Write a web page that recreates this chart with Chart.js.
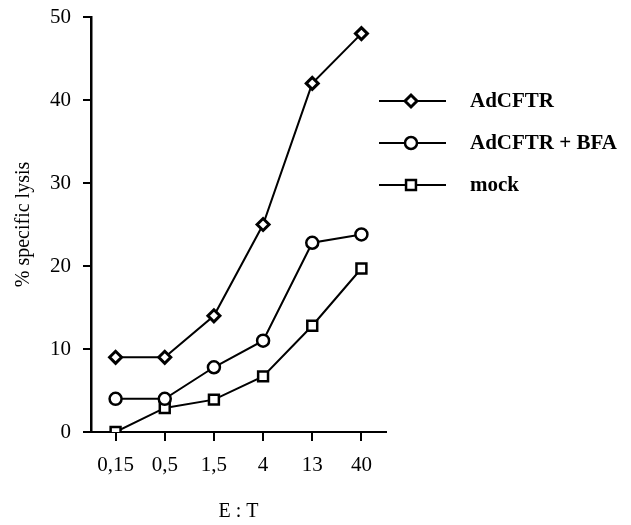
<!DOCTYPE html>
<html>
<head>
  <meta charset="UTF-8">
  <title>% specific lysis vs E:T</title>
  <script src="https://cdn.jsdelivr.net/npm/chart.js"></script>
  <style>
    body { margin: 0; background: #fff; }
    #wrap { width: 631px; height: 525px; }
  </style>
</head>
<body>
  <div id="wrap"><canvas id="lysisChart" width="631" height="525"></canvas></div>

  <script>
    // E:T ratios (categories)
    const ratios = ['0,15', '0,5', '1,5', '4', '13', '40'];

    // % specific lysis per group
    const adcftr = [9, 9, 14, 25, 42, 48];
    const adcftrBfa = [4, 4, 7.8, 11, 22.8, 23.8];
    const mock = [0, 2.9, 3.9, 6.7, 12.8, 19.7];

    const yTicks = [0, 10, 20, 30, 40, 50];

    const serif = '"Liberation Serif", "Times New Roman", serif';

    // legend drawn to the right of the plot, like the original figure
    const sideLegend = {
      id: 'sideLegend',
      afterDraw(chart) {
        const ctx = chart.ctx;
        const rows = [101, 143, 185];
        ctx.save();
        chart.data.datasets.forEach((ds, i) => {
          const y = rows[i];
          ctx.strokeStyle = '#000';
          ctx.lineWidth = 2;
          ctx.beginPath();
          ctx.moveTo(379, y);
          ctx.lineTo(446, y);
          ctx.stroke();
          ctx.fillStyle = '#fff';
          ctx.strokeStyle = '#000';
          ctx.lineWidth = ds.pointBorderWidth;
          Chart.helpers.drawPoint(ctx, {
            pointStyle: ds.pointStyle,
            radius: ds.pointRadius,
            borderWidth: ds.pointBorderWidth
          }, 411, y);
          ctx.fillStyle = '#000';
          ctx.font = 'bold 21px ' + serif;
          ctx.textBaseline = 'middle';
          ctx.textAlign = 'left';
          ctx.fillText(ds.label, 470, y + 1);
        });
        ctx.restore();
      }
    };

    const common = {
      borderColor: '#000',
      borderWidth: 2,
      pointBackgroundColor: '#fff',
      pointBorderColor: '#000',
      tension: 0
    };

    new Chart(document.getElementById('lysisChart'), {
      type: 'line',
      data: {
        labels: ratios,
        datasets: [
          Object.assign({ label: 'AdCFTR', data: adcftr, pointStyle: 'rectRot', pointRadius: 6, pointBorderWidth: 3 }, common),
          Object.assign({ label: 'AdCFTR + BFA', data: adcftrBfa, pointStyle: 'circle', pointRadius: 6, pointBorderWidth: 2.5 }, common),
          Object.assign({ label: 'mock', data: mock, pointStyle: 'rect', pointRadius: 7, pointBorderWidth: 2.5 }, common)
        ]
      },
      options: {
        responsive: false,
        animation: false,
        events: [],
        layout: { padding: { left: 0, top: 17, right: 245, bottom: 0 } },
        plugins: {
          legend: { display: false },
          tooltip: { enabled: false }
        },
        scales: {
          x: {
            offset: true,
            border: { display: true, color: '#000', width: 2 },
            grid: { drawOnChartArea: false, drawTicks: true, tickLength: 9, color: '#000', lineWidth: 2, offset: false },
            ticks: { color: '#000', font: { family: serif, size: 21 }, padding: 12, maxRotation: 0 },
            title: { display: true, text: 'E : T', color: '#000', font: { family: serif, size: 20 }, padding: { bottom: 1 } },
            afterFit(scale) { scale.height = 93; }
          },
          y: {
            min: 0,
            max: 50,
            afterBuildTicks(scale) { scale.ticks = yTicks.map(v => ({ value: v })); },
            border: { display: true, color: '#000', width: 2.5 },
            grid: { drawOnChartArea: false, drawTicks: true, tickLength: 8, color: '#000', lineWidth: 2 },
            ticks: { color: '#000', font: { family: serif, size: 21 }, padding: 12 },
            title: { display: true, text: '% specific lysis', color: '#000', font: { family: serif, size: 20 }, padding: { top: 12 } },
            afterFit(scale) { scale.width = 91; scale.paddingTop = 0; }
          }
        }
      },
      plugins: [sideLegend]
    });
  </script>
</body>
</html>
